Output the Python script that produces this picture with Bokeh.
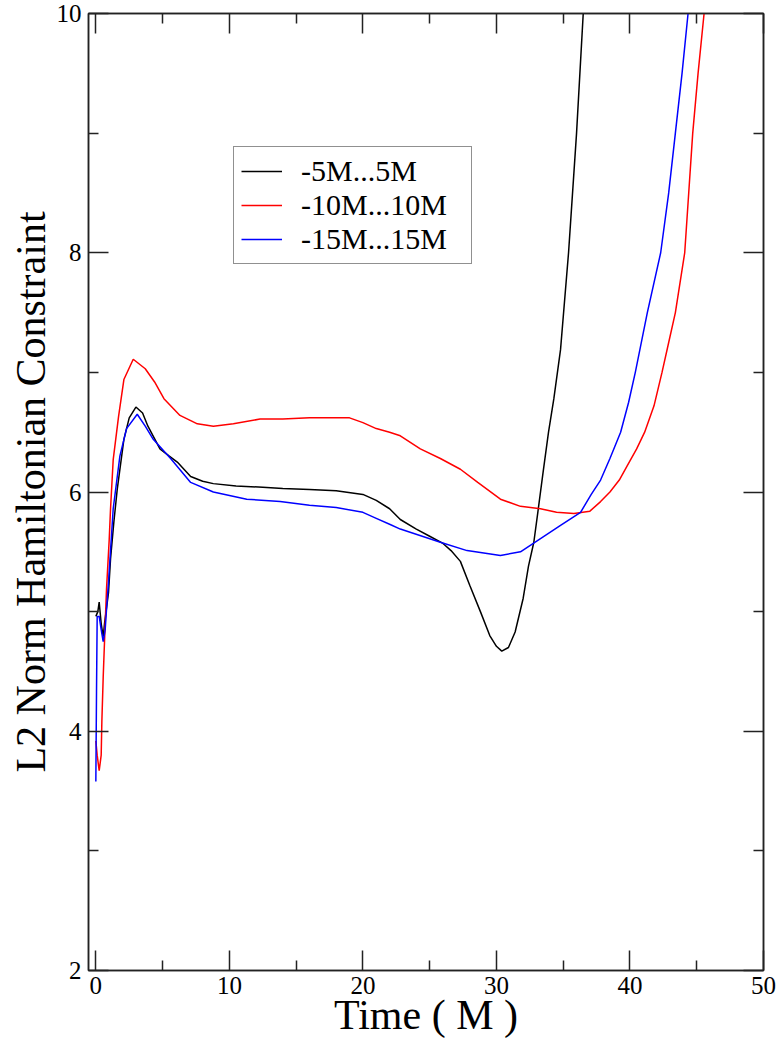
from bokeh.plotting import figure
from bokeh.models import Range1d, FixedTicker, LinearAxis, Legend, LegendItem, CustomJSTickFormatter
from bokeh.embed import file_html
from bokeh.resources import INLINE

# ---- data ----
t_black = [0.0, 0.15, 0.25, 0.4, 0.55, 0.65, 0.95, 1.1, 1.35, 1.6, 2.1, 2.5, 3.0, 3.5, 3.9, 4.8, 5.5, 6.1,
           7.1, 8.0, 8.8, 10.5, 12.5, 14.0, 16.0, 18.0, 20.0, 21.0, 22.0, 22.8, 24.0, 25.0, 26.0, 26.6,
           27.3, 28.0, 28.8, 29.5, 30.0, 30.4, 30.9, 31.4, 32.0, 32.4, 32.8, 33.1, 33.5, 33.9, 34.3,
           34.8, 35.4, 36.0, 36.5, 37.0]
h_black = [4.96, 5.0, 5.08, 4.9, 4.79, 4.90, 5.16, 5.44, 5.75, 6.02, 6.44, 6.62, 6.71, 6.66, 6.55, 6.36,
           6.30, 6.25, 6.13, 6.09, 6.07, 6.05, 6.04, 6.03, 6.02, 6.01, 5.98, 5.93, 5.86, 5.77, 5.69,
           5.63, 5.57, 5.51, 5.42, 5.22, 5.00, 4.80, 4.71, 4.67, 4.70, 4.83, 5.11, 5.38, 5.58, 5.83,
           6.17, 6.50, 6.78, 7.19, 8.0, 9.0, 10.0, 11.0]

t_red = [0.0, 0.1, 0.25, 0.4, 0.45, 0.55, 0.65, 0.8, 1.0, 1.1, 1.3, 1.7, 2.1, 2.8, 3.7, 4.4, 5.1, 6.3,
         7.6, 8.8, 10.3, 12.3, 14.0, 16.0, 18.0, 19.0, 20.0, 21.0, 22.0, 22.8, 24.3, 25.8, 27.3, 28.6,
         30.3, 31.8, 33.3, 34.5, 35.8, 37.0, 37.8, 38.5, 39.2, 39.8, 40.5, 41.1, 41.8, 42.4, 42.9,
         43.4, 44.1, 44.4, 44.7, 45.1, 45.55, 46.0]
h_red = [3.92, 3.80, 3.67, 3.80, 4.08, 4.45, 4.75, 5.19, 5.60, 5.86, 6.27, 6.63, 6.94, 7.11, 7.03, 6.92,
         6.78, 6.64, 6.57, 6.55, 6.57, 6.61, 6.61, 6.62, 6.62, 6.62, 6.58, 6.53, 6.50, 6.47, 6.36,
         6.28, 6.19, 6.08, 5.94, 5.88, 5.86, 5.83, 5.82, 5.84, 5.92, 6.0, 6.10, 6.22, 6.36, 6.5,
         6.72, 7.0, 7.25, 7.5, 8.0, 8.5, 9.0, 9.5, 10.0, 10.6]

t_blue = [0.0, 0.05, 0.1, 0.25, 0.4, 0.55, 0.7, 0.8, 0.95, 1.3, 1.8, 2.3, 3.1, 3.7, 4.3, 5.6, 7.1, 8.8,
          11.3, 13.8, 16.0, 18.0, 20.0, 21.0, 22.0, 22.8, 25.8, 27.8, 30.3, 31.8, 33.3, 34.8, 36.3,
          37.1, 37.8, 38.5, 39.3, 39.9, 40.4, 41.3, 42.3, 42.9, 43.4, 43.9, 44.35, 44.8]
h_blue = [3.58, 4.33, 4.96, 4.96, 4.85, 4.75, 4.85, 5.02, 5.25, 5.86, 6.30, 6.53, 6.65, 6.55, 6.44, 6.28,
          6.08, 6.00, 5.94, 5.92, 5.89, 5.87, 5.83, 5.78, 5.73, 5.69, 5.58, 5.51, 5.47, 5.50, 5.61,
          5.72, 5.83, 5.98, 6.10, 6.28, 6.5, 6.75, 7.0, 7.5, 8.0, 8.5, 9.0, 9.5, 10.0, 10.5]

series_labels = ["-5M...5M", "-10M...10M", "-15M...15M"]
series_colors = ["black", "#ff0000", "#0000ff"]

x_major = [0, 10, 20, 30, 40, 50]
x_minor = [5, 15, 25, 35, 45]
y_major = [2, 4, 6, 8, 10]
y_minor = [3, 5, 7, 9]

x_title = "Time ( M )"
y_title = "L2 Norm Hamiltonian Constraint"

FONT = "Times"
AX = "#222222"

p = figure(width=780, height=1049, output_backend="svg", toolbar_location=None,
           x_range=Range1d(-0.55, 50), y_range=Range1d(2, 10),
           min_border_left=88, min_border_right=17, min_border_top=13, min_border_bottom=79,
           background_fill_color="white", border_fill_color="white")
p.grid.visible = False
p.outline_line_color = AX
p.outline_line_width = 1.5

def style_axis(ax, ticks, minor):
    ax.ticker = FixedTicker(ticks=ticks, minor_ticks=minor)
    ax.axis_line_color = AX
    ax.axis_line_width = 1.5
    ax.major_tick_line_color = AX
    ax.minor_tick_line_color = AX
    ax.major_tick_line_width = 1.5
    ax.minor_tick_line_width = 1.5
    ax.major_tick_in = 20
    ax.major_tick_out = 0
    ax.minor_tick_in = 10
    ax.minor_tick_out = 0
    ax.major_label_text_font = FONT
    ax.major_label_text_font_size = "25px"
    ax.major_label_text_color = "black"
    ax.axis_label_text_font = FONT
    ax.axis_label_text_font_style = "normal"
    ax.axis_label_text_font_size = "42px"
    ax.axis_label_text_color = "black"

style_axis(p.xaxis[0], x_major, x_minor)
style_axis(p.yaxis[0], y_major, y_minor)
p.xaxis[0].axis_label = x_title
p.yaxis[0].axis_label = y_title
p.xaxis[0].major_label_standoff = 6
p.yaxis[0].major_label_standoff = 7
p.xaxis[0].axis_label_standoff = -5
p.yaxis[0].axis_label_standoff = 0

top = LinearAxis(formatter=CustomJSTickFormatter(code="return ''"))
style_axis(top, x_major, x_minor)
top.major_label_standoff = 0
top.major_label_text_font_size = "0px"
right = LinearAxis(formatter=CustomJSTickFormatter(code="return ''"))
style_axis(right, y_major, y_minor)
right.major_label_standoff = 0
right.major_label_text_font_size = "0px"
p.add_layout(top, "above")
p.add_layout(right, "right")

r1 = p.line(t_black, h_black, line_color=series_colors[0], line_width=1.5)
r2 = p.line(t_red, h_red, line_color=series_colors[1], line_width=1.5)
r3 = p.line(t_blue, h_blue, line_color=series_colors[2], line_width=1.5)

legend = Legend(items=[LegendItem(label=series_labels[0], renderers=[r1]),
                       LegendItem(label=series_labels[1], renderers=[r2]),
                       LegendItem(label=series_labels[2], renderers=[r3])],
                location=(145, 706))
legend.label_text_font = FONT
legend.label_text_font_size = "30px"
legend.label_text_color = "black"
legend.border_line_color = AX
legend.border_line_width = 1.5
legend.background_fill_color = "white"
legend.background_fill_alpha = 1.0
legend.glyph_width = 41
legend.glyph_height = 30
legend.label_standoff = 19
legend.label_height = 33
legend.label_width = 163
legend.padding = 7
legend.spacing = 0
legend.margin = 0
p.add_layout(legend)

open("out.html", "w").write(file_html(p, INLINE))
